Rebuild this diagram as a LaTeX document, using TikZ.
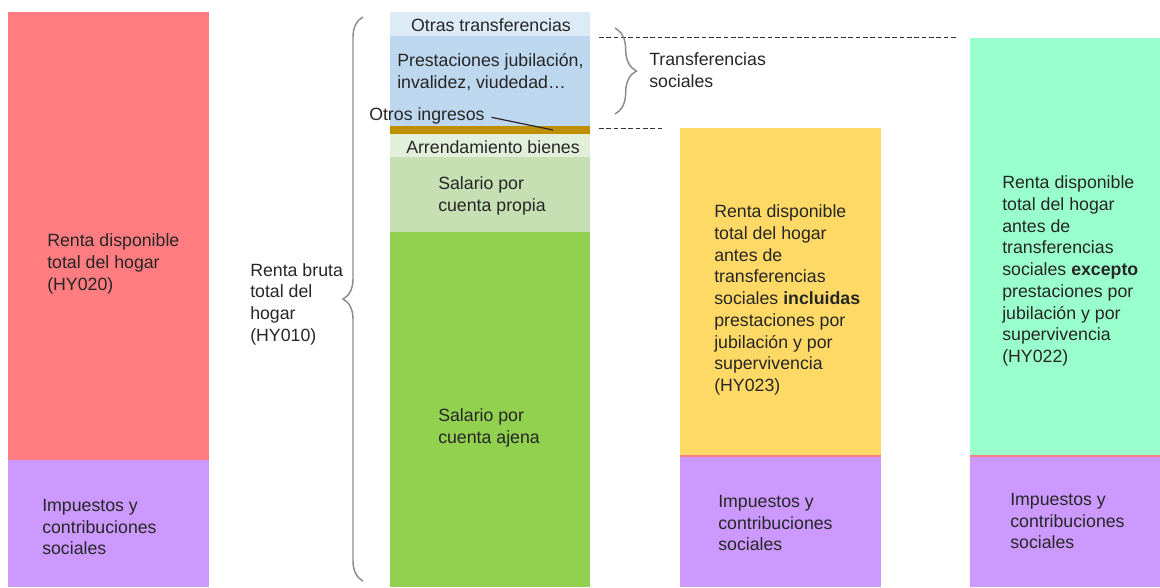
\documentclass[tikz,border=0pt]{standalone}
\usepackage{fontspec}
\setmainfont{Liberation Sans}
\usetikzlibrary{decorations.pathreplacing}
\definecolor{cred}{HTML}{FF7C80}
\definecolor{cpurple}{HTML}{CC99FF}
\definecolor{cyellow}{HTML}{FFD966}
\definecolor{cmint}{HTML}{99FFCC}
\definecolor{cblueA}{HTML}{DDEBF7}
\definecolor{cblueB}{HTML}{BDD7EE}
\definecolor{cgold}{HTML}{BF8F00}
\definecolor{cgreenA}{HTML}{E2EFDA}
\definecolor{cgreenB}{HTML}{C6E0B4}
\definecolor{cgreenC}{HTML}{92D050}
\definecolor{cbrace}{HTML}{8C8C8C}
\begin{document}
\begin{tikzpicture}[x=0.75pt,y=-0.75pt,
  txt/.style={anchor=west,align=left,inner sep=0pt,text=black!85,font=\fontsize{13.3pt}{16.3pt}\selectfont},
  ctxt/.style={txt,anchor=center,align=center},
  bracestyle/.style={draw=cbrace,line width=1.1pt,decorate,decoration={brace,amplitude=15pt}},
  dashline/.style={draw=black!80,line width=0.7pt,dash pattern=on 3.5pt off 2pt}]
\useasboundingbox (0,0) rectangle (1160,587);
% left column
\fill[cred] (8,12) rectangle (209,460);
\fill[cpurple] (8,460) rectangle (209,587);
% middle column
\fill[cblueA] (390,12) rectangle (590,36);
\fill[cblueB] (390,36) rectangle (590,126);
\fill[cgold] (390,126) rectangle (590,134);
\fill[cgreenA] (390,134) rectangle (590,157);
\fill[cgreenB] (390,157) rectangle (590,232);
\fill[cgreenC] (390,232) rectangle (590,587);
% orange column
\fill[cyellow] (680,128) rectangle (881,456);
\fill[cpurple] (680,456) rectangle (881,587);
\draw[cred,line width=0.8pt] (680,456) -- (881,456);
% mint column
\fill[cmint] (970,38) rectangle (1160,456);
\fill[cpurple] (970,456) rectangle (1160,587);
\draw[cred,line width=0.8pt] (970,456) -- (1160,456);
% dashed lines
\coordinate (d1a) at (599,37); \coordinate (d1b) at (958,37);
\coordinate (d2a) at (599,128); \coordinate (d2b) at (663,128);
\draw[dashline] (d1a) -- (d1b);
\draw[dashline] (d2a) -- (d2b);
% braces
\coordinate (b1a) at (363,581); \coordinate (b1b) at (363,17);
\draw[bracestyle] (b1a) -- (b1b);
\coordinate (b2a) at (615,28); \coordinate (b2b) at (615,114);
\draw[bracestyle,decoration={brace,amplitude=16pt}] (b2a) -- (b2b);
% texts
\node[txt] (t1) at (47,264) {Renta disponible\\total del hogar\\(HY020)};
\node[txt] (t2) at (42,527) {Impuestos y\\contribuciones\\sociales};
\node[txt] (t3) at (250,304) {Renta bruta\\total del\\hogar\\(HY010)};
\node[ctxt] (t4) at (491,25) {Otras transferencias};
\node[txt] (t5) at (397,72) {Prestaciones jubilación,\\invalidez, viudedad…};
\node[txt] (t6) at (369,116) {Otros ingresos};
\coordinate (oi) at (553,130);
\draw[black!85,line width=0.9pt] ([xshift=5pt,yshift=-1pt]t6.east) -- (oi);
\node[ctxt] (t7) at (493,147) {Arrendamiento bienes};
\node[txt] (t8) at (438,196) {Salario por\\cuenta propia};
\node[txt] (t9) at (438,428) {Salario por\\cuenta ajena};
\node[txt] (t10) at (649,70) {Transferencias\\sociales};
\node[txt] (t11) at (714,300) {Renta disponible\\total del hogar\\antes de\\transferencias\\sociales \textbf{incluidas}\\prestaciones por\\jubilación y por\\supervivencia\\(HY023)};
\node[txt] (t12) at (718,523) {Impuestos y\\contribuciones\\sociales};
\node[txt] (t13) at (1002,271) {Renta disponible\\total del hogar\\antes de\\transferencias\\sociales \textbf{excepto}\\prestaciones por\\jubilación y por\\supervivencia\\(HY022)};
\node[txt] (t14) at (1010,521) {Impuestos y\\contribuciones\\sociales};
\end{tikzpicture}
\end{document}
